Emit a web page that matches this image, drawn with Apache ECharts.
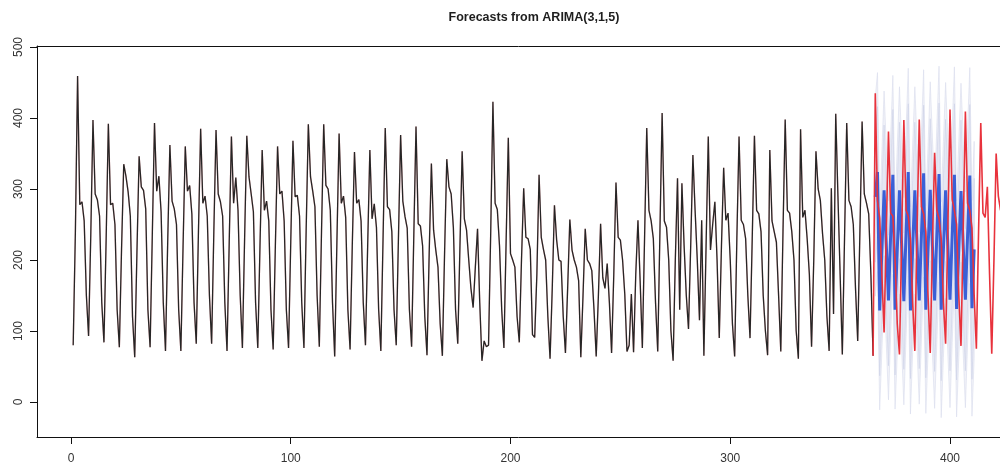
<!DOCTYPE html>
<html><head><meta charset="utf-8">
<script src="https://cdn.jsdelivr.net/npm/echarts@6/dist/echarts.min.js"></script>
<style>html,body{margin:0;padding:0;background:#fff}#c{width:1000px;height:468px}</style>
</head><body><div id="c"></div>
<script>
const chartTitle = 'Forecasts from ARIMA(3,1,5)';
const xTickValues = [0, 100, 200, 300, 400];
const yTickValues = [0, 100, 200, 300, 400, 500];

// observed training series, t = 1 .. 365
const historyStart = 1;
const history = [
  80, 240, 459, 278, 282, 255, 150,
  93, 235, 397, 293, 285, 262, 140,
  84, 230, 392, 278, 280, 250, 130,
  77, 215, 335, 318, 296, 262, 120,
  63, 210, 346, 303, 298, 272, 130,
  77, 235, 393, 297, 318, 268, 140,
  72, 225, 362, 283, 272, 250, 130,
  72, 220, 360, 297, 305, 265, 140,
  82, 240, 385, 280, 290, 262, 150,
  82, 240, 383, 293, 282, 262, 140,
  72, 225, 374, 280, 316, 270, 150,
  76, 230, 375, 317, 293, 268, 140,
  76, 220, 355, 270, 283, 255, 130,
  74, 220, 360, 293, 297, 255, 130,
  76, 225, 368, 289, 291, 262, 140,
  76, 240, 391, 317, 297, 275, 150,
  78, 240, 391, 305, 300, 270, 140,
  64, 225, 378, 280, 290, 260, 130,
  74, 220, 352, 280, 285, 255, 140,
  80, 220, 355, 258, 279, 246, 130,
  72, 230, 386, 275, 271, 240, 130,
  80, 230, 376, 283, 261, 245, 130,
  78, 235, 388, 251, 248, 220, 120,
  66, 210, 336, 242, 214, 190, 110,
  65, 210, 342, 303, 293, 246, 130,
  82, 220, 353, 258, 242, 200, 160,
  133, 190, 244, 140, 58, 86, 78,
  80, 240, 423, 280, 271, 220, 130,
  76, 225, 372, 209, 200, 190, 120,
  84, 200, 301, 232, 230, 215, 95,
  91, 180, 320, 232, 215, 200, 120,
  61, 160, 277, 228, 200, 198, 120,
  69, 160, 257, 214, 200, 190, 171,
  63, 150, 244, 200, 195, 185, 130,
  64, 150, 251, 175, 160, 195, 140,
  69, 180, 309, 232, 228, 200, 152,
  71, 80, 152, 70, 180, 256, 170,
  76, 230, 386, 270, 255, 230, 140,
  71, 240, 407, 255, 246, 200, 100,
  58, 200, 315, 130, 308, 220, 150,
  103, 220, 348, 270, 200, 115, 256,
  65, 220, 374, 214, 250, 282, 200,
  90, 220, 330, 256, 266, 200, 110,
  64, 230, 374, 256, 250, 230, 150,
  90, 230, 375, 270, 265, 240, 150,
  100, 66, 355, 255, 240, 225, 150,
  71, 240, 398, 270, 266, 240, 200,
  100, 61, 384, 260, 270, 230, 180,
  78, 200, 353, 300, 284, 237, 200,
  120, 72, 301, 124, 406, 290, 180,
  67, 230, 393, 284, 275, 250, 160,
  86, 240, 395, 293, 280, 265, 180,
  65
];

// observed test series (red), t = 366 ..
const testStart = 366;
const test = [
  435, 284, 259, 180, 98, 240, 381,
  266, 262, 200, 110, 67, 230, 397,
  270, 262, 230, 140, 72, 240, 398,
  275, 265, 240, 150, 69, 220, 351,
  270, 258, 230, 140, 82, 240, 412,
  285, 270, 250, 150, 79, 240, 409,
  280, 270, 245, 150, 75, 240, 393,
  266, 260, 303, 180, 68, 200, 350,
  290, 270
];

// ARIMA point forecast and intervals, t = 366 .. 411
const forecastStart = 366;
const forecast = [289, 324, 129, 212, 298, 222, 143, 236, 320, 130,
  214, 298, 220, 142, 238, 324, 129, 216, 298, 221,
  143, 235, 322, 130, 214, 299, 220, 143, 236, 321,
  130, 215, 298, 221, 144, 236, 320, 131, 215, 297,
  221, 144, 235, 319, 132, 215];
const lower80 = [197, 232, 37, 120, 206, 130, 51, 144, 228, 38,
  118, 202, 124, 46, 142, 228, 33, 120, 202, 125,
  47, 139, 226, 34, 118, 199, 120, 43, 136, 221,
  30, 115, 198, 121, 44, 136, 220, 31, 115, 197,
  121, 44, 135, 219, 32, 115];
const upper80 = [381, 416, 221, 304, 390, 314, 235, 328, 412, 222,
  310, 394, 316, 238, 334, 420, 225, 312, 394, 317,
  239, 331, 418, 226, 310, 399, 320, 243, 336, 421,
  230, 315, 398, 321, 244, 336, 420, 231, 315, 397,
  321, 244, 335, 419, 232, 315];
const lower95 = [149, 184, -11, 72, 158, 82, 3, 96, 180, -10,
  68, 152, 74, -4, 92, 178, -17, 70, 152, 75,
  -3, 89, 176, -16, 68, 147, 68, -9, 84, 169,
  -22, 63, 146, 69, -8, 84, 168, -21, 63, 145,
  69, -8, 83, 167, -20, 63];
const upper95 = [429, 464, 269, 352, 438, 362, 283, 376, 460, 270,
  360, 444, 366, 288, 384, 470, 275, 362, 444, 367,
  289, 381, 468, 276, 360, 451, 372, 295, 388, 473,
  282, 367, 450, 373, 296, 388, 472, 283, 367, 449,
  373, 296, 387, 471, 284, 367];

const toPairs = (start, arr) => arr.map((v, i) => [start + i, v]);
const historyPairs = toPairs(historyStart, history);
const testPairs = [historyPairs[historyPairs.length - 1]].concat(toPairs(testStart, test));
const forecastPairs = toPairs(forecastStart, forecast);

function bandSeries(lo, hi, fill, stroke, z) {
  return {
    type: 'custom', z: z, silent: true, clip: true,
    data: lo.map((v, i) => [forecastStart + i, v, hi[i]]),
    renderItem: function (params, api) {
      if (params.dataIndex !== 0) return null;
      const pts = [];
      for (let i = 0; i < hi.length; i++) pts.push(api.coord([forecastStart + i, hi[i]]));
      for (let i = lo.length - 1; i >= 0; i--) pts.push(api.coord([forecastStart + i, lo[i]]));
      return { type: 'polygon', shape: { points: pts },
        style: { fill: fill, stroke: stroke, lineWidth: 0.6 } };
    }
  };
}

const X_MIN = -15.47, X_MAX = 422.75, Y_MIN = -49.3, Y_MAX = 501.4;
const chart = echarts.init(document.getElementById('c'), null, { renderer: 'canvas' });
const font = 'Liberation Sans, Arial, Helvetica, sans-serif';
const lineCol = '#111';
chart.setOption({
  animation: false,
  backgroundColor: '#ffffff',
  title: {
    text: chartTitle, left: 529, top: 6, textAlign: 'center',
    textStyle: { fontFamily: font, fontSize: 12.5, fontWeight: 'bold', color: '#1e1e1e' }
  },
  grid: { left: 37, right: 0, top: 46, bottom: 31, show: false },
  xAxis: [{
    type: 'value', min: X_MIN, max: X_MAX, position: 'bottom',
    axisLine: { show: true, onZero: false, lineStyle: { color: lineCol, width: 1 } },
    splitLine: { show: false },
    axisTick: { show: true, length: 7, inside: false, customValues: xTickValues, lineStyle: { color: lineCol } },
    axisLabel: { show: true, margin: 16, customValues: xTickValues, fontFamily: font, fontSize: 12, color: '#333' }
  }, {
    type: 'value', min: X_MIN, max: X_MAX, position: 'top',
    axisLine: { show: true, onZero: false, lineStyle: { color: lineCol, width: 1 } },
    splitLine: { show: false }, axisTick: { show: false }, axisLabel: { show: false }
  }],
  yAxis: {
    type: 'value', min: Y_MIN, max: Y_MAX, position: 'left',
    axisLine: { show: true, onZero: false, lineStyle: { color: lineCol, width: 1 } },
    splitLine: { show: false },
    axisTick: { show: true, length: 7, inside: false, customValues: yTickValues, lineStyle: { color: lineCol } },
    axisLabel: { show: true, rotate: 90, margin: 12, customValues: yTickValues, fontFamily: font, fontSize: 12, color: '#333' }
  },
  series: [
    bandSeries(lower95, upper95, '#f1f2f8', '#d8dbec', 1),
    bandSeries(lower80, upper80, '#e5e7f3', '#cdd1e8', 2),
    { type: 'line', name: 'forecast', data: forecastPairs, showSymbol: false, z: 3,
      lineStyle: { color: '#3b60d6', width: 3 } },
    { type: 'line', name: 'actual-history', data: historyPairs, showSymbol: false, z: 4,
      lineStyle: { color: '#e8323c', width: 1.5, opacity: 0.3 } },
    { type: 'line', name: 'train', data: historyPairs, showSymbol: false, z: 5,
      lineStyle: { color: '#262626', width: 1.3 } },
    { type: 'line', name: 'actual-test', data: testPairs, showSymbol: false, z: 6,
      lineStyle: { color: '#e8323c', width: 1.6 } }
  ]
});
</script></body></html>
